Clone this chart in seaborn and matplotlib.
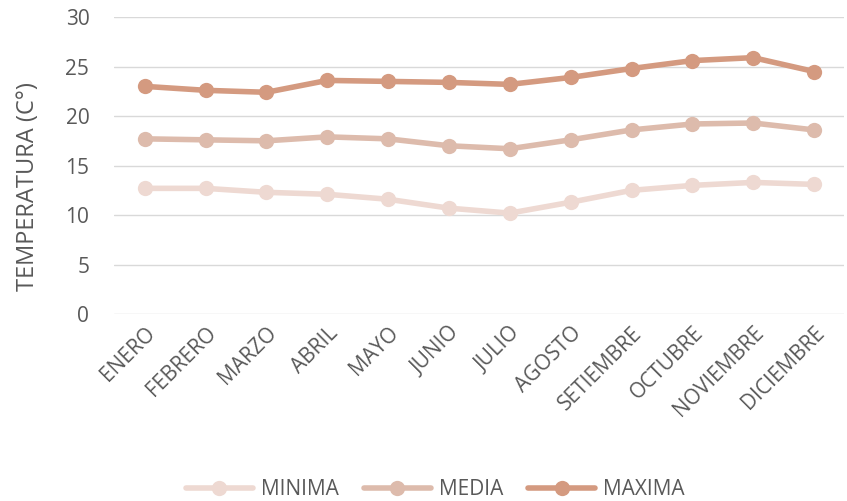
import pandas as pd
import seaborn as sns
import matplotlib.pyplot as plt

# ==================== Data ====================

meses = ["ENERO", "FEBRERO", "MARZO", "ABRIL", "MAYO", "JUNIO", "JULIO",
         "AGOSTO", "SETIEMBRE", "OCTUBRE", "NOVIEMBRE", "DICIEMBRE"]
minima = [12.7, 12.7, 12.3, 12.1, 11.6, 10.7, 10.2, 11.3, 12.5, 13.0, 13.3, 13.1]
media = [17.7, 17.6, 17.5, 17.9, 17.7, 17.0, 16.7, 17.6, 18.6, 19.2, 19.3, 18.6]
maxima = [23.0, 22.6, 22.4, 23.6, 23.5, 23.4, 23.2, 23.9, 24.8, 25.6, 25.9, 24.5]
series = ["MINIMA", "MEDIA", "MAXIMA"]
colores = ["#EED9D2", "#DDBBAC", "#D49A80"]

data = pd.DataFrame({"mes": meses, "MINIMA": minima, "MEDIA": media, "MAXIMA": maxima})
data = data.melt(id_vars="mes", var_name="serie", value_name="temp")

# ==================== Plot ====================

sns.set_style("white")
plt.rcParams["font.family"] = ["Open Sans", "DejaVu Sans"]

fig = plt.figure(figsize=(8.47, 5.01), dpi=100)
ax = fig.add_axes([0.135, 0.373, 0.862, 0.593])

sns.lineplot(
    data, x="mes", y="temp", hue="serie", hue_order=series,
    palette=colores, marker="o", markersize=11, linewidth=4,
    markeredgewidth=0, sort=False, ax=ax,
)

ax.set_ylim(0, 30)
ax.set_yticks(range(0, 31, 5))
ax.set_xlim(-0.5, len(meses) - 0.5)
ax.grid(axis="y", color="#D9D9D9", linewidth=1)
ax.set_axisbelow(True)
for s in ax.spines.values():
    s.set_visible(False)
ax.tick_params(axis="both", length=0, labelsize=15, labelcolor="#595959")
ax.tick_params(axis="y", pad=18)
ax.tick_params(axis="x", pad=6)
plt.setp(ax.get_xticklabels(), rotation=45, ha="right", rotation_mode="anchor")
ax.set_xlabel("")
ax.set_ylabel("TEMPERATURA (C°)", fontsize=17, color="#595959")
ax.yaxis.set_label_coords(-0.102, 0.43)

ax.legend(
    loc="lower center", bbox_to_anchor=(0.44, -0.69), ncol=3, frameon=False,
    fontsize=15, labelcolor="#595959", handlelength=3.2, columnspacing=1.2,
    handletextpad=0.4,
)

plt.savefig("out.png", dpi=100)
